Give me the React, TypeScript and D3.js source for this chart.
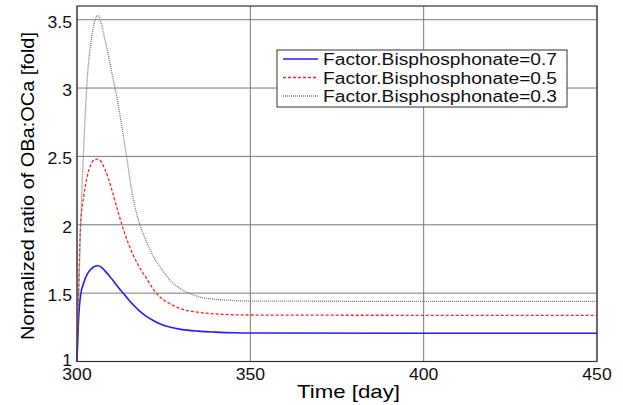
import React, { useRef, useEffect } from 'react';
import * as d3 from 'd3';

// values
const days = [300, 300.5, 301, 302, 303, 304, 305, 306, 307, 308, 310, 312, 314, 316, 318, 320, 322, 324, 327, 330, 335, 340, 345, 350, 400, 450];
const factor07 = [1.0, 1.33, 1.48, 1.58, 1.64, 1.675, 1.695, 1.70, 1.69, 1.665, 1.605, 1.54, 1.48, 1.42, 1.37, 1.33, 1.30, 1.275, 1.25, 1.235, 1.222, 1.215, 1.21, 1.208, 1.207, 1.207];
const factor05 = [1.0, 1.55, 1.98, 2.22, 2.36, 2.44, 2.475, 2.48, 2.46, 2.41, 2.26, 2.08, 1.92, 1.79, 1.69, 1.61, 1.53, 1.47, 1.42, 1.385, 1.36, 1.348, 1.342, 1.34, 1.338, 1.338];
const factor03 = [1.0, 1.5, 1.95, 2.6, 3.08, 3.33, 3.48, 3.53, 3.47, 3.36, 3.12, 2.86, 2.55, 2.22, 2.01, 1.88, 1.77, 1.69, 1.59, 1.53, 1.475, 1.455, 1.447, 1.442, 1.44, 1.44];

const xTicks = [300, 350, 400, 450];
const yTicks = [1, 1.5, 2, 2.5, 3, 3.5];
const seriesNames = ['Factor.Bisphosphonate=0.7', 'Factor.Bisphosphonate=0.5', 'Factor.Bisphosphonate=0.3'];

const FONT = '"Liberation Sans", Arial, sans-serif';

export default function App() {
  const svgRef = useRef<SVGSVGElement>(null);

  useEffect(() => {
    const svg = d3.select(svgRef.current);
    svg.selectAll('*').remove();

    const left = 77, right = 597, top = 6, bottom = 361.5;

    const xScale = d3.scaleLinear().domain([300, 450]).range([left, right]);
    const yScale = d3.scaleLinear().domain([1, 3.6]).range([bottom, top]);

    const series = [
      { name: seriesNames[0], values: factor07, color: '#1f1fff', dash: null, width: 1.6 },
      { name: seriesNames[1], values: factor05, color: '#ff2020', dash: '3,2', width: 1.3 },
      { name: seriesNames[2], values: factor03, color: '#777', dash: '1,1', width: 1.3 },
    ];

    const g = svg.append('g');

    // grid
    g.selectAll('.vgrid').data(xTicks)
      .enter().append('line')
        .attr('x1', d => xScale(d)).attr('x2', d => xScale(d))
        .attr('y1', top).attr('y2', bottom)
        .attr('stroke', '#7a7a7a').attr('stroke-width', 1);

    g.selectAll('.hgrid').data(yTicks)
      .enter().append('line')
        .attr('x1', left).attr('x2', right)
        .attr('y1', d => yScale(d)).attr('y2', d => yScale(d))
        .attr('stroke', '#7a7a7a').attr('stroke-width', 1);

    // curves
    const line = d3.line<number>()
      .x((_, i) => xScale(days[i]))
      .y(d => yScale(d))
      .curve(d3.curveMonotoneX);

    series.forEach(s => {
      g.append('path')
        .attr('d', line(s.values))
        .attr('fill', 'none')
        .attr('stroke', s.color)
        .attr('stroke-width', s.width)
        .attr('stroke-dasharray', s.dash);
    });

    // axes box
    g.append('rect')
      .attr('x', left).attr('y', top)
      .attr('width', right - left).attr('height', bottom - top)
      .attr('fill', 'none')
      .attr('stroke', '#333').attr('stroke-width', 1.2);

    // tick labels
    g.selectAll('.xtick').data(xTicks)
      .enter().append('text')
        .attr('transform', d => `translate(${xScale(d)},380) scale(1.1,1)`)
        .attr('text-anchor', 'middle')
        .style('font', `16px ${FONT}`)
        .attr('fill', '#111')
        .text(d => d);

    g.selectAll('.ytick').data(yTicks)
      .enter().append('text')
        .attr('transform', d => `translate(72,${yScale(d) + (d === 1 ? 4 : 8)}) scale(1.1,1)`)
        .attr('text-anchor', 'end')
        .style('font', `16px ${FONT}`)
        .attr('fill', '#111')
        .text(d => d);

    // axis titles
    g.append('text')
      .attr('x', 297).attr('y', 398)
      .attr('textLength', 103).attr('lengthAdjust', 'spacingAndGlyphs')
      .style('font', `18.5px ${FONT}`)
      .attr('fill', '#000')
      .text('Time [day]');

    g.append('text')
      .attr('transform', 'translate(33.5,340) rotate(-90)')
      .attr('textLength', 308).attr('lengthAdjust', 'spacingAndGlyphs')
      .style('font', `18px ${FONT}`)
      .attr('fill', '#000')
      .text('Normalized ratio of OBa:OCa [fold]');

    // legend
    const legend = g.append('g');
    legend.append('rect')
      .attr('x', 277).attr('y', 50).attr('width', 290).attr('height', 57)
      .attr('fill', 'white').attr('stroke', '#333').attr('stroke-width', 1);

    series.forEach((s, i) => {
      const cy = 59 + i * 18.5;
      legend.append('line')
        .attr('x1', 283).attr('x2', 318).attr('y1', cy).attr('y2', cy)
        .attr('stroke', s.color).attr('stroke-width', s.width)
        .attr('stroke-dasharray', s.dash);
      legend.append('text')
        .attr('x', 323).attr('y', cy + 6)
        .attr('textLength', 234).attr('lengthAdjust', 'spacingAndGlyphs')
        .style('font', `16px ${FONT}`)
        .attr('fill', '#111')
        .text(s.name);
    });
  }, []);

  return (
    <svg
      ref={svgRef}
      width={623}
      height={405}
      style={{ position: 'absolute', left: 0, top: 0, background: 'white' }}
    />
  );
}
